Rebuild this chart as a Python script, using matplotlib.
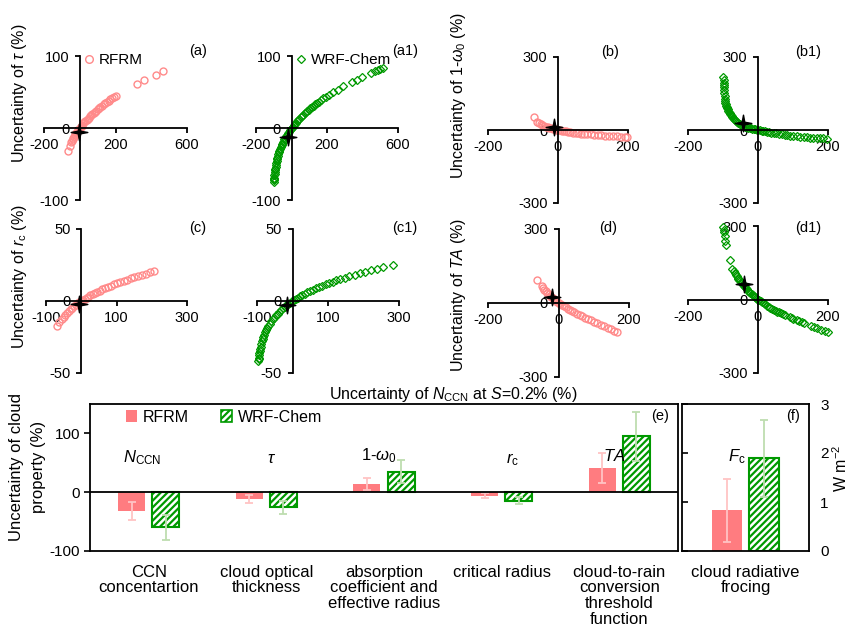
import matplotlib as mpl
mpl.use('Agg')
from matplotlib import pyplot as plt
from matplotlib.path import Path
from matplotlib.patches import Patch

plt.rcParams['font.family'] = ['Liberation Sans', 'DejaVu Sans']
plt.rcParams['mathtext.fontset'] = 'custom'
plt.rcParams['mathtext.rm'] = 'Liberation Sans'
plt.rcParams['mathtext.it'] = 'Liberation Sans:italic'
plt.rcParams['mathtext.bf'] = 'Liberation Sans:bold'
plt.rcParams['axes.unicode_minus'] = False
plt.rcParams['hatch.linewidth'] = 1.6

PINK = '#FF7C80'
PINK_M = '#FF8A8A'
GREEN = '#009900'
PINK_ERR = '#FFC4C4'
GREEN_ERR = '#BEDDB0'

# ===================== 数据：散点 =====================
# (a) tau, RFRM
rfrm_tau_x = [-67, -55, -48, -44, -40, -36, -32, -28, -24, -20, -16, -12, -8, -4, 0, 5, 10, 15, 20, 26,
              32, 38, 44, 50, 57, 64, 71, 78, 85, 92, 100, 108, 116, 125, 134, 143, 152, 162, 172, 183,
              193, 205, 318, 359, 427, 468]
rfrm_tau_y = [-32, -25, -19.6, -17.6, -15.7, -13.8, -12.1, -10.4, -8.7, -7.2, -5.6, -4.2, -2.7, -1.4, 0, 1.6, 3.2, 4.8, 6.3, 8.0,
              9.7, 11.3, 12.9, 14.5, 16.2, 17.9, 19.6, 21.2, 22.7, 24.3, 26.0, 27.6, 29.3, 31.0, 32.8, 34.4, 36.1, 37.9, 39.6, 41.5,
              43.1, 45.0, 61.1, 66.2, 74.0, 78.5]
# (a1) tau, WRF-Chem
wrf_tau_x = [-98.5, -98, -97.5, -97, -96, -95, -94, -93, -92, -90, -88, -86, -84, -82, -80, -77, -74, -71, -68, -64,
             -60, -56, -52, -48, -44, -40, -35, -30, -25, -20, -15, -10, -5, 0, 6, 12, 18, 24, 30, 37,
             44, 51, 58, 66, 74, 82, 90, 98, 107, 116, 125, 135, 145, 155, 168, 180, 195, 210, 236, 260,
             292, 339, 367, 395, 446, 470, 485, 499, 517]
wrf_tau_y = [-75.3, -72.9, -70.8, -68.9, -65.8, -63.2, -60.9, -58.8, -56.9, -53.6, -50.7, -48.1, -45.7, -43.5, -41.5, -38.7, -36.2, -33.8, -31.6, -28.9,
             -26.3, -23.9, -21.7, -19.6, -17.6, -15.7, -13.4, -11.2, -9.1, -7.2, -5.3, -3.4, -1.7, 0, 2.0, 3.9, 5.7, 7.4, 9.1, 11.1,
             12.9, 14.7, 16.5, 18.4, 20.3, 22.1, 23.9, 25.6, 27.4, 29.3, 31.0, 33.0, 34.8, 36.6, 38.9, 41.0, 43.4, 45.8, 49.8, 53.3,
             57.7, 63.8, 67.2, 70.4, 76.1, 78.6, 80.2, 81.6, 83.4]
# (b) 1-w0, RFRM
rfrm_ssa_x = [-70, -61, -55, -50, -45, -40, -35, -30, -25, -20, -15, -10, -5, 0, 5, 10, 16, 22, 28, 35,
              42, 50, 58, 66, 75, 84, 93, 103, 113, 123, 134, 145, 156, 168, 180, 190, 198]
rfrm_ssa_y = [52, 33.9, 28.1, 24.0, 20.4, 17.2, 14.3, 11.7, 9.3, 7.2, 5.2, 3.3, 1.6, 0, -1.5, -2.9, -4.5, -6.0, -7.4, -8.9,
              -10.3, -11.8, -13.2, -14.5, -15.9, -17.2, -18.4, -19.7, -20.9, -22.0, -23.2, -24.3, -25.3, -26.3, -27.3, -28.1, -28.7]
# (b1) 1-w0, WRF-Chem
wrf_ssa_x = [-99, -98.5, -98, -97.5, -97, -96.5, -96, -95.5, -95, -94, -93, -92, -91, -90, -89, -87, -85, -83, -81, -79,
             -77, -75, -73, -71, -68, -65, -62, -59, -56, -52, -48, -44, -40, -36, -32, -28, -24, -20, -16, -12,
             -8, -4, 0, 5, 10, 15, 20, 26, 32, 38, 45, 52, 60, 68, 76, 84, 92, 100, 110, 120,
             130, 140, 148, 158, 168, 178, 187, 196]
wrf_ssa_y = [219, 205, 195, 185, 175, 163, 152, 140, 128, 119, 112, 105.5, 100, 96, 92, 86, 80, 75, 70, 66,
             62, 58, 54.5, 51, 46, 41.5, 37.5, 33.5, 30, 26, 22.5, 19.5, 16.8, 14.3, 12, 10, 8.2, 6.5, 5, 3.6,
             2.3, 1.1, 0, -1.5, -3, -4.4, -5.8, -7.5, -9, -10.5, -12.3, -14, -16, -17.8, -19.5, -21, -23, -25, -26.5, -27.8,
             -29, -30.2, -31, -32, -33, -33.8, -34.5, -35]
# (c) rc, RFRM
rfrm_rc_x = [-70, -62, -56, -50, -45, -40, -35, -30, -25, -20, -15, -10, -5, 0, 5, 10, 15, 20, 26, 32,
             38, 45, 52, 60, 68, 76, 84, 93, 102, 111, 120, 130, 140, 150, 161, 172, 183, 195, 207]
rfrm_rc_y = [-17.5, -14.9, -12.8, -10.9, -9.5, -8.2, -6.9, -5.8, -4.7, -3.7, -2.7, -1.7, -0.9, 0, 0.8, 1.6, 2.4, 3.1, 3.9, 4.7,
             5.5, 6.4, 7.2, 8.1, 9.0, 9.9, 10.7, 11.6, 12.4, 13.2, 14.0, 14.9, 15.7, 16.5, 17.3, 18.1, 18.9, 19.8, 20.6]
# (c1) rc, WRF-Chem
wrf_rc_x = [-96, -95.5, -95, -94, -93, -92, -91, -90, -88, -86, -84, -82, -80, -77, -74, -71, -68, -64, -60, -56,
            -52, -47, -42, -37, -32, -27, -22, -17, -12, -7, -2, 3, 9, 15, 21, 28, 35, 42, 50, 58,
            66, 75, 84, 93, 103, 113, 123, 135, 147, 160, 175, 190, 205, 220, 238, 255, 284]
wrf_rc_y = [-41.5, -40.4, -39.3, -37.4, -35.8, -34.4, -33.1, -31.9, -29.8, -27.9, -26.3, -24.9, -23.5, -21.7, -20.1, -18.6, -17.3, -15.7, -14.2, -12.8,
            -11.5, -10.0, -8.7, -7.4, -6.2, -5.1, -4.1, -3.1, -2.1, -1.2, -0.3, 0.5, 1.4, 2.4, 3.2, 4.2, 5.1, 6.0, 7.0, 7.9,
            8.8, 9.8, 10.7, 11.6, 12.5, 13.4, 14.3, 15.3, 16.3, 17.3, 18.4, 19.4, 20.4, 21.4, 22.5, 23.5, 25.1]
# (d) TA, RFRM
rfrm_ta_x = [-62, -48, -44, -40, -36, -32, -28, -24, -20, -16, -12, -8, -4, 0, 5, 10, 15, 20, 26, 32,
             38, 45, 52, 60, 68, 76, 84, 92, 100, 110, 120, 130, 140, 150, 158, 165]
rfrm_ta_y = [93, 69, 61, 54, 47, 40.5, 34.5, 28.8, 23.4, 18.3, 13.4, 8.8, 4.3, 0, -4.9, -9.5, -14.0, -18.2, -23.1, -27.8,
             -32.5, -37.9, -43.1, -48.9, -54.5, -59.9, -65.2, -70.4, -75.5, -82.4, -88.3, -95.0, -100.7, -107.2, -111.8, -116]
# (d1) TA, WRF-Chem
wrf_ta_x = [-99, -98, -96, -94, -93, -91, -80, -73, -70, -67, -64, -61, -58, -56, -53, -50, -47, -44, -41, -37,
            -34, -31, -28, -25, -22, -18, -15, -12, -9, -6, -3, 0, 4, 8, 12, 16, 20, 25, 30, 35,
            40, 45, 50, 55, 60, 66, 72, 78, 90, 96, 101, 110, 118, 125, 130, 150, 160, 168, 180, 192, 201]
wrf_ta_y = [295, 285, 277, 259, 240, 222, 163, 126, 118, 110, 102, 95, 89, 85, 78, 72, 66, 61, 56, 51,
            46, 41, 36, 32, 27, 21, 17, 12.5, 9, 6, 3, 0, -4, -8, -12, -16, -20, -25, -30, -34,
            -38, -42, -46, -50, -53, -57, -61, -64, -72, -76, -80, -85, -89, -93, -95, -108, -113, -117, -123, -129, -134]

# 星号：观测值
star_a, star_a1 = (-3, -6), (-19, -12)
star_b, star_b1 = (-11, 12), (-42, 30)
star_c, star_c1 = (-5, -2), (-16, -3)
star_d, star_d1 = (-19, 23), (-39, 64)

# ===================== 数据：柱状 =====================
cats = ['CCN\nconcentartion', 'cloud optical\nthickness', 'absorption\ncoefficient and\neffective radius',
        'critical radius', 'cloud-to-rain\nconversion\nthreshold\nfunction']
cat_syms = [r'$N_{\rm CCN}$', r'$\tau$', r'$\mathit{1}$-$\mathit{\omega}_0$', r'$r_{\rm c}$', r'$TA$']
rfrm_mean = [-31.5, -12, 14, -5.7, 41]
rfrm_err = [15.5, 6.5, 10, 3.5, 25.6]
wrf_mean = [-60, -26, 35, -14.4, 95]
wrf_err = [20.5, 10.5, 19, 6, 41.7]
fc_rfrm, fc_rfrm_err = 0.83, 0.64
fc_wrf, fc_wrf_err = 1.89, 0.79

W, H = 850, 633
fig = plt.figure(figsize=(W / 100, H / 100), dpi=100)

STAR = Path.unit_regular_star(4, innerCircle=0.22)


def rect(l, t, r, b):
    return [l / W, 1 - b / H, (r - l) / W, (b - t) / H]


def ftext(x, y, s, **kw):
    fig.text(x / W, 1 - y / H, s, ha=kw.pop('ha', 'center'), va=kw.pop('va', 'center'), **kw)


def scatter_panel(r, xs, ys, star, xlim, ylim, xticks, yticks, model):
    ax = fig.add_axes(rect(*r))
    ax.set_xlim(xlim)
    ax.set_ylim(ylim)
    ax.patch.set_visible(False)
    for s in ['top', 'right']:
        ax.spines[s].set_visible(False)
    for s in ['left', 'bottom']:
        ax.spines[s].set_position(('data', 0))
        ax.spines[s].set_linewidth(1.3)
    ax.set_xticks(xticks)
    ax.set_yticks(yticks)
    ax.tick_params(direction='out', length=3.5, width=1.3, labelsize=10.5, pad=4)
    if model == 'rfrm':
        ln, = ax.plot(xs, ys, 'o', ms=5.0, mfc='none', mec=PINK_M, mew=1.0, clip_on=False)
    else:
        ln, = ax.plot(xs, ys, 'D', ms=3.6, mfc='none', mec=GREEN, mew=0.9, clip_on=False)
    ax.plot([star[0]], [star[1]], marker=STAR, ms=12, color='k', ls='none', zorder=5, clip_on=False)
    return ax, ln


# ===================== 散点面板 =====================
ax, ln = scatter_panel((44, 56, 187, 200), rfrm_tau_x, rfrm_tau_y, star_a, (-200, 600), (-100, 100),
                       [-200, 200, 600], [-100, 0, 100], 'rfrm')
ax.legend([ln], ['RFRM'], loc='center left', bbox_to_anchor=(84 / W, 1 - 60 / H), bbox_transform=fig.transFigure,
          frameon=False, handlelength=0.6, handletextpad=0.35, borderpad=0, borderaxespad=0, fontsize=11, markerscale=1.1)
ax, ln = scatter_panel((256, 56, 398, 200), wrf_tau_x, wrf_tau_y, star_a1, (-200, 600), (-100, 100),
                       [-200, 200, 600], [-100, 0, 100], 'wrf')
ax.legend([ln], ['WRF-Chem'], loc='center left', bbox_to_anchor=(296 / W, 1 - 60 / H), bbox_transform=fig.transFigure,
          frameon=False, handlelength=0.6, handletextpad=0.35, borderpad=0, borderaxespad=0, fontsize=11, markerscale=1.1)
scatter_panel((488, 57, 628, 203), rfrm_ssa_x, rfrm_ssa_y, star_b, (-200, 200), (-300, 300),
              [-200, 0, 200], [-300, 0, 300], 'rfrm')
scatter_panel((688, 57, 828, 203), wrf_ssa_x, wrf_ssa_y, star_b1, (-200, 200), (-300, 300),
              [-200, 0, 200], [-300, 0, 300], 'wrf')
scatter_panel((46, 229, 187, 373), rfrm_rc_x, rfrm_rc_y, star_c, (-100, 300), (-50, 50),
              [-100, 100, 300], [-50, 0, 50], 'rfrm')
scatter_panel((257, 229, 399, 373), wrf_rc_x, wrf_rc_y, star_c1, (-100, 300), (-50, 50),
              [-100, 100, 300], [-50, 0, 50], 'wrf')
scatter_panel((488, 229, 629, 377), rfrm_ta_x, rfrm_ta_y, star_d, (-200, 200), (-300, 300),
              [-200, 0, 200], [-300, 0, 300], 'rfrm')
scatter_panel((688, 226, 828, 373), wrf_ta_x, wrf_ta_y, star_d1, (-200, 200), (-300, 300),
              [-200, 0, 200], [-300, 0, 300], 'wrf')

for s, x, y in [('(a)', 198, 51), ('(a1)', 405, 51), ('(b)', 610, 52), ('(b1)', 808, 52),
                ('(c)', 198, 228), ('(c1)', 405, 228), ('(d)', 608, 228), ('(d1)', 808, 228)]:
    ftext(x, y, s, fontsize=10.5)

ftext(20, 93, r'Uncertainty of $\tau$ (%)', rotation=90, fontsize=11.5)
ftext(20, 277, r'Uncertainty of $r_{\rm c}$ (%)', rotation=90, fontsize=11.5)
ftext(458, 96, r'Uncertainty of $\mathit{1}$-$\mathit{\omega}_0$ (%)', rotation=90, fontsize=11.5)
ftext(458, 295, r'Uncertainty of $TA$ (%)', rotation=90, fontsize=11.5)
ftext(453, 394, r'Uncertainty of $N_{\rm CCN}$ at $S$=0.2% (%)', fontsize=11.5)

# ===================== (e) 柱状 =====================
axe = fig.add_axes(rect(90, 404, 678, 551))
xs = list(range(len(cats)))
off, bw = 0.145, 0.23
axe.bar([i - off for i in xs], rfrm_mean, bw, color=PINK, zorder=2)
axe.bar([i + off for i in xs], wrf_mean, bw, facecolor='white', edgecolor=GREEN, hatch='/////', lw=1.5, zorder=2)
axe.errorbar([i - off for i in xs], rfrm_mean, yerr=rfrm_err, fmt='none', ecolor=PINK_ERR, elinewidth=1.3,
             capsize=3, capthick=1.3, zorder=3)
axe.errorbar([i + off for i in xs], wrf_mean, yerr=wrf_err, fmt='none', ecolor=GREEN_ERR, elinewidth=1.3,
             capsize=3, capthick=1.3, zorder=3)
axe.axhline(0, color='k', lw=1.3, zorder=4)
axe.set_xlim(-0.5, len(cats) - 0.5)
axe.set_ylim(-100, 150)
axe.set_yticks([-100, 0, 100])
axe.set_xticks(xs)
axe.set_xticklabels(cats, fontsize=12, linespacing=1.05)
axe.tick_params(axis='x', length=0, pad=10)
axe.tick_params(axis='y', direction='out', length=4, width=1.2, labelsize=11, pad=3)
for s in axe.spines.values():
    s.set_linewidth(1.3)
for (x, y), s in zip([(-0.06, 58), (1.045, 58), (1.96, 62), (3.09, 55), (3.96, 62)], cat_syms):
    axe.text(x, y, s, ha='center', va='center', fontsize=12)
axe.text(0.985, 0.92, '(e)', transform=axe.transAxes, ha='right', va='center', fontsize=10.5)
axe.legend([Patch(facecolor=PINK), Patch(facecolor='white', edgecolor=GREEN, hatch='/////', lw=1.2)],
           ['RFRM', 'WRF-Chem'], ncol=2, loc='center left', bbox_to_anchor=(126 / W, 1 - 417 / H),
           bbox_transform=fig.transFigure, frameon=False, fontsize=11.5, handlelength=0.7, handleheight=0.7,
           handletextpad=0.35, columnspacing=2.0, borderpad=0, borderaxespad=0)
ftext(17, 467, 'Uncertainty of cloud', rotation=90, fontsize=12)
ftext(38, 467, 'property (%)', rotation=90, fontsize=12)

# ===================== (f) 辐射强迫 =====================
axf = fig.add_axes(rect(682, 404, 809, 551))
axf.bar([-off], [fc_rfrm], 0.235, color=PINK, zorder=2)
axf.bar([off], [fc_wrf], 0.235, facecolor='white', edgecolor=GREEN, hatch='/////', lw=1.5, zorder=2)
axf.errorbar([-off], [fc_rfrm], yerr=[fc_rfrm_err], fmt='none', ecolor=PINK_ERR, elinewidth=1.3,
             capsize=3, capthick=1.3, zorder=3)
axf.errorbar([off], [fc_wrf], yerr=[fc_wrf_err], fmt='none', ecolor=GREEN_ERR, elinewidth=1.3,
             capsize=3, capthick=1.3, zorder=3)
axf.set_xlim(-0.5, 0.5)
axf.set_ylim(0, 3)
axf.set_yticks([0, 1, 2, 3])
axf.set_xticks([0])
axf.set_xticklabels(['cloud radiative\nfrocing'], fontsize=12, linespacing=1.05)
axf.tick_params(axis='x', length=0, pad=10)
axf.tick_params(axis='y', left=True, right=False, labelleft=False, labelright=True, direction='in',
                length=4, width=1.2, labelsize=11, pad=8)
for s in axf.spines.values():
    s.set_linewidth(1.3)
axf.text(-0.067, 1.93, r'$F_{\rm c}$', ha='center', va='center', fontsize=12)
axf.text(0.93, 0.92, '(f)', transform=axf.transAxes, ha='right', va='center', fontsize=10.5)
ftext(841, 468, r'W m$^{-2}$', rotation=90, fontsize=11.5)

plt.savefig('out.png', dpi=100)
